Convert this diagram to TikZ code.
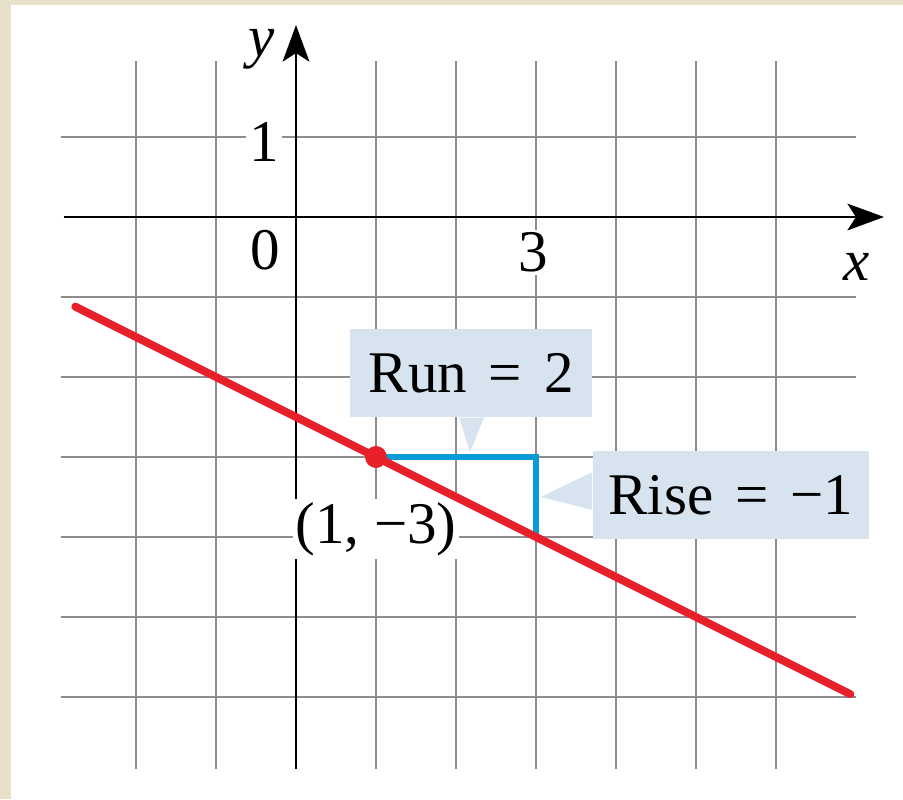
\documentclass[tikz,border=0pt]{standalone}
\usepackage{fontspec}
\setmainfont{LiberationSerif}[
  Extension=.ttf,
  UprightFont=*-Regular,
  ItalicFont=*-Italic,
  BoldFont=*-Bold,
  BoldItalicFont=*-BoldItalic]
\usetikzlibrary{arrows.meta, positioning, calc}
\definecolor{framecol}{HTML}{E8E0C9}
\definecolor{gridcol}{HTML}{8C8C8C}
\definecolor{linecol}{HTML}{E8202A}
\definecolor{legcol}{HTML}{0A9AD8}
\definecolor{calloutcol}{HTML}{D7E3EE}

\begin{document}
\begin{tikzpicture}[
  gridline/.style={gridcol, line width=0.75pt},
  axis/.style={black, line width=0.9pt,
    -{Stealth[length=13pt, width=9.5pt, inset=3pt]}},
  ticklabel/.style={font=\fontsize{21}{24}\selectfont, fill=white, inner sep=1pt},
  axislabel/.style={font=\fontsize{21}{24}\selectfont\itshape},
  callout/.style={fill=calloutcol, font=\fontsize{21}{24}\selectfont,
    minimum height=1.1cm, inner sep=0pt},
  slope/.style={linecol, line width=2.8pt, line cap=round},
  legs/.style={legcol, line width=2.2pt},
  dot/.style={circle, fill=linecol, inner sep=0pt, minimum size=0.27cm}
]

% ============ FRAME ============
\useasboundingbox (-3.7,-7.275) rectangle (7.5875,2.7125);
\fill[framecol] (-3.7,-7.275) rectangle (7.5875,2.7125);
\fill[white] (-3.5625,-7.275) rectangle (7.5875,2.65);

% ============ GRID + AXES ============
\foreach \y in {1,-1,-2,...,-6}
  \draw[gridline] (-2.94,\y) -- (7,\y);
\foreach \x in {-2,-1,1,2,...,6}
  \draw[gridline] (\x,1.95) -- (\x,-6.9);

\draw[axis] (-2.9,0) -- (7.35,0);
\draw[axis] (0,-6.9) -- (0,2.4);

\node[axislabel] (ylab) at (-0.43,2.09) {y};
\node[axislabel] (xlab) at (7.01,-0.62) {x};
\node[ticklabel] (one) at (-0.4,0.94) {1};
\node[ticklabel] (zero) at (-0.39,-0.42) {0};
\node[ticklabel] (three) at (2.96,-0.44) {3};

% ============ POINT, RISE / RUN ============
\node[ticklabel] (ptlab) at (1.0,-3.9) {(1, −3)};

\node[dot] (pt) at (1,-3) {};
\coordinate (corner) at (3,-3);
\coordinate (onlin) at (3,-4);
\draw[legs] (pt.center) -- (corner) -- (onlin);

% line through (1,-3) with slope -1/2
\coordinate (lstart) at (-2.76,-1.12);
\coordinate (lend) at (6.93,-5.965);
\draw[slope] (lstart) -- (lend);
\node[dot] at (pt) {};

% ============ CALLOUTS ============
\node[callout, minimum width=3.03cm] (run) at (2.19,-1.95)
  {Run\hspace{0.37em}=\hspace{0.37em}2};
\coordinate (runtip) at (2.175,-2.94);
\fill[calloutcol] ($(run.south)+(-0.15,0)$) -- ($(run.south)+(0.16,0)$)
  -- (runtip) -- cycle;

\node[callout, minimum width=3.45cm] (rise) at (5.435,-3.48)
  {Rise\hspace{0.37em}=\hspace{0.37em}−1};
\coordinate (risetip) at (3.06,-3.5);
\fill[calloutcol] ($(rise.west)+(0,0.29)$) -- ($(rise.west)+(0,-0.18)$)
  -- (risetip) -- cycle;

\end{tikzpicture}
\end{document}
